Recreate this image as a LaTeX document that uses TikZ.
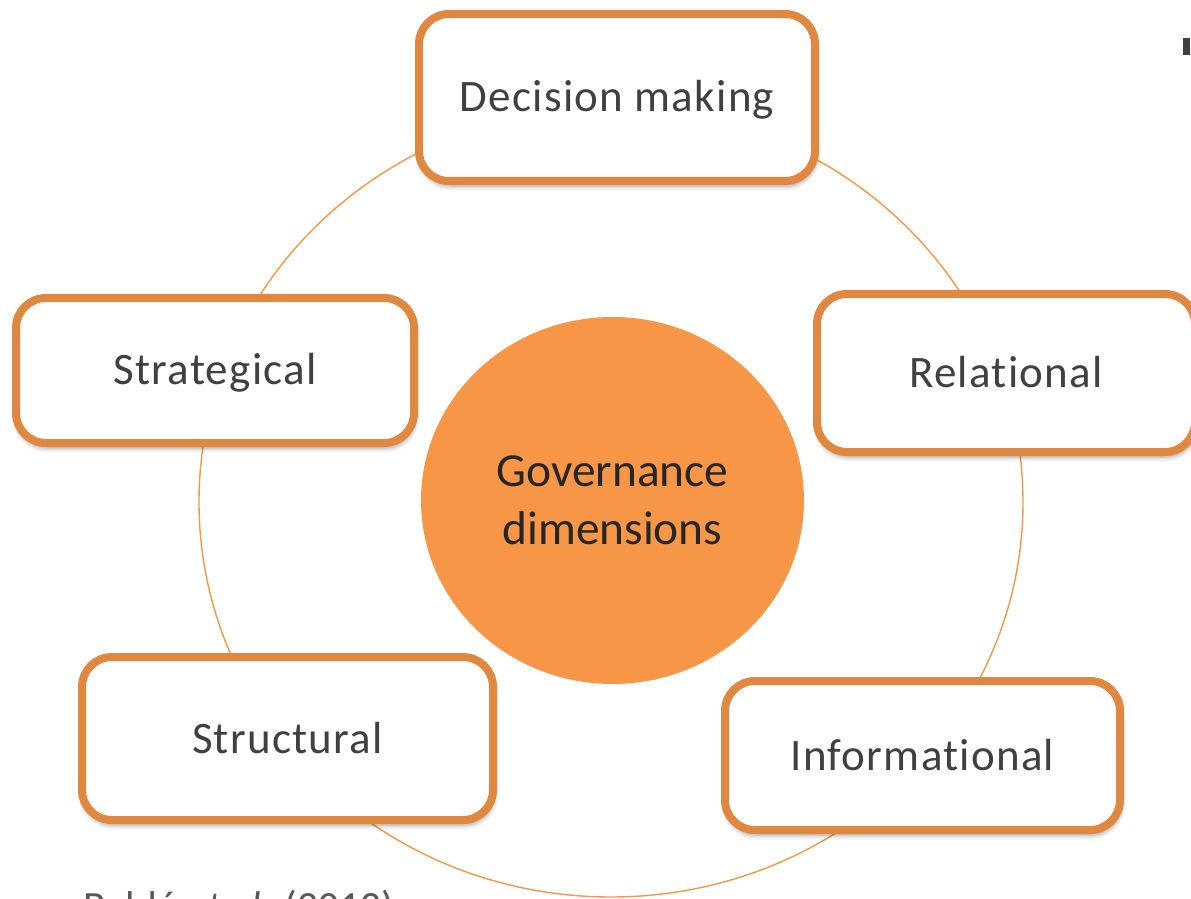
\documentclass[tikz,border=0pt]{standalone}
\usepackage{fontspec}
\setmainfont{Carlito}
\newfontfamily\boxfont[LetterSpace=2.8, Ligatures=NoCommon]{Carlito}
\usepackage{tikz}
\usetikzlibrary{positioning,shapes.geometric,shadows.blur}

\definecolor{boxorange}{RGB}{224,135,64}
\definecolor{hubfill}{RGB}{247,150,70}
\definecolor{labelgray}{RGB}{64,64,64}
\definecolor{hubtext}{RGB}{38,38,38}
\definecolor{sourcegray}{RGB}{89,89,89}

\begin{document}
\begin{tikzpicture}[x=0.5pt, y=-0.5pt,
dimbox/.style={rectangle, rounded corners=15pt, draw=boxorange, fill=white, line width=4pt, text=labelgray, font=\boxfont\fontsize{22.5}{27}\selectfont, text height=14.5pt, text depth=0pt, blur shadow={shadow xshift=0.5pt, shadow yshift=-2.5pt, shadow blur radius=2.5pt, shadow opacity=40}},
hubnode/.style={ellipse, fill=hubfill, text=hubtext, align=center, font=\fontsize{23.7}{29}\selectfont, minimum width=191.5pt, minimum height=183.5pt, inner sep=0pt},
ring/.style={draw=hubfill, line width=0.7pt}
]
    \useasboundingbox (0,0) rectangle (1191,899);

    %Ring
    \coordinate (ringc) at (611,502);
    \draw[ring] (ringc) ellipse [x radius=206pt, y radius=197.5pt];

    %Nodes
    \node[hubnode]
        (hub)           at (612.5,500.5)    {Governance\\dimensions};
    \node[dimbox, minimum width=198pt, minimum height=83.5pt]
        (decision)      at (617,97.5)       {Decision making};
    \node[dimbox, minimum width=199pt, minimum height=72.5pt]
        (strategic)     at (215,370.5)      {Strategical};
    \node[dimbox, minimum width=189pt, minimum height=79pt]
        (relational)    at (1006,373)       {Relational};
    \node[dimbox, minimum width=205.5pt, minimum height=81.5pt]
        (structural)    at (287.5,738.5)    {Structural};
    \node[dimbox, minimum width=197.5pt, minimum height=74.5pt]
        (informational) at (922.5,755.5)    {Informational};

    %Source
    \node[anchor=base west, inner sep=0pt, text=sourcegray, font=\fontsize{20.8}{25}\selectfont]
        (source)        at (83,920)         {Baldé \textit{et al.} (2012)};

    %Bullet
    \fill[labelgray] (1183,38) rectangle (1190,55);
\end{tikzpicture}
\end{document}
